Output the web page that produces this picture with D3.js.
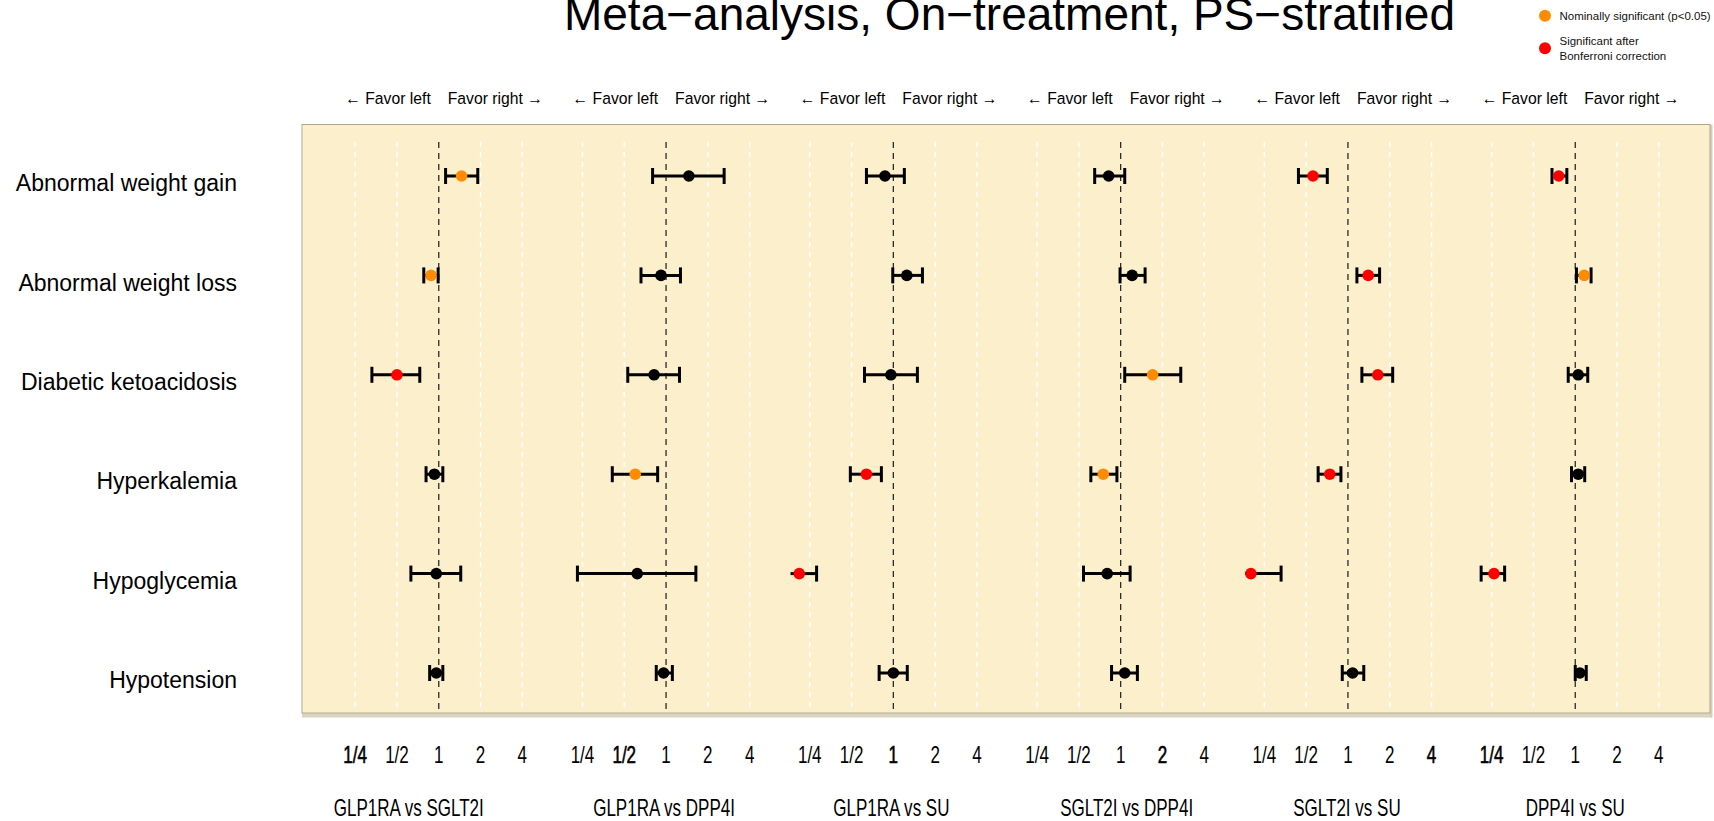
<!DOCTYPE html>
<html>
<head>
<meta charset="utf-8">
<script src="https://cdn.jsdelivr.net/npm/d3@7"></script>
<style>
  html, body { margin: 0; padding: 0; background: #ffffff; }
  svg { display: block; font-family: "Liberation Sans", Arial, sans-serif; }
</style>
</head>
<body>
<svg id="chart" width="1714" height="821"></svg>
<script>
// ---- data -------------------------------------------------------------
const comparisons = ["GLP1RA vs SGLT2I", "GLP1RA vs DPP4I", "GLP1RA vs SU",
                     "SGLT2I vs DPP4I", "SGLT2I vs SU", "DPP4I vs SU"];
const outcomes = ["Abnormal weight gain", "Abnormal weight loss", "Diabetic ketoacidosis",
                  "Hyperkalemia", "Hypoglycemia", "Hypotension"];
const tickValues = [0.25, 0.5, 1, 2, 4];
const tickLabels = ["1/4", "1/2", "1", "2", "4"];

// hazard ratios [comparison][outcome]
const hrPoint = [
  [1.46, 0.88, 0.50, 0.93, 0.96, 0.96],
  [1.46, 0.92, 0.82, 0.60, 0.62, 0.96],
  [0.87, 1.25, 0.96, 0.64, 0.21, 1.00],
  [0.82, 1.21, 1.70, 0.75, 0.80, 1.07],
  [0.56, 1.40, 1.64, 0.74, 0.20, 1.08],
  [0.76, 1.16, 1.05, 1.05, 0.26, 1.08]
];
const ciLower = [
  [1.12, 0.78, 0.33, 0.81, 0.63, 0.86],
  [0.80, 0.66, 0.53, 0.41, 0.23, 0.85],
  [0.64, 0.99, 0.62, 0.49, 0.16, 0.79],
  [0.65, 0.99, 1.07, 0.61, 0.54, 0.86],
  [0.44, 1.16, 1.26, 0.61, 0.15, 0.91],
  [0.68, 1.02, 0.89, 0.94, 0.21, 1.00]
];
const ciUpper = [
  [1.91, 0.99, 0.73, 1.07, 1.44, 1.07],
  [2.62, 1.27, 1.25, 0.87, 1.64, 1.11],
  [1.20, 1.62, 1.49, 0.82, 0.28, 1.26],
  [1.07, 1.50, 2.71, 0.94, 1.17, 1.32],
  [0.71, 1.69, 2.10, 0.89, 0.33, 1.30],
  [0.87, 1.30, 1.23, 1.17, 0.31, 1.20]
];
// 0 = not significant, 1 = nominally significant, 2 = significant after Bonferroni
const significance = [
  [1, 1, 2, 0, 0, 0],
  [0, 0, 0, 1, 0, 0],
  [0, 0, 0, 2, 2, 0],
  [0, 0, 1, 1, 0, 0],
  [2, 2, 2, 2, 2, 0],
  [2, 1, 0, 0, 2, 0]
];
const legendLabels = [["Nominally significant (p<0.05)"], ["Significant after", "Bonferroni correction"]];
const titleText = "Meta\u2212analysis, On\u2212treatment, PS\u2212stratified";

// ---- layout -----------------------------------------------------------
const sigColor = ["#000000", "#FF8C00", "#FF0000"];
const panel = { x0: 302, x1: 1710, y0: 124.5, y1: 713 };
const halfSpan = 2.719;                 // log2 units each side of HR = 1
const clipMin = Math.pow(2, -2.46);     // lower CI limit shown in each panel
const clipMax = Math.pow(2, 2.46);

const svg = d3.select("#chart");

const band = d3.scaleBand()
  .domain(comparisons)
  .range([325.1, 1688.9])
  .paddingInner(0).paddingOuter(0);

const within = d3.scaleLog().base(2)
  .domain([Math.pow(2, -halfSpan), Math.pow(2, halfSpan)])
  .range([0, band.bandwidth()]);

const xAt = (g, v) => band(comparisons[g]) + within(v);

const y = d3.scalePoint().domain(outcomes).range([176, 673]);

// condensed text helper (narrow glyphs, full height)
function narrowText(parent, x, yy, str, size, sx, anchor) {
  return parent.append("text")
    .attr("transform", `translate(${x},${yy}) scale(${sx},1)`)
    .attr("text-anchor", anchor)
    .attr("font-size", size)
    .attr("fill", "#000")
    .text(str);
}

// panel background
svg.append("rect")
  .attr("x", panel.x0).attr("y", panel.y1)
  .attr("width", panel.x1 - panel.x0 + 2).attr("height", 4.5)
  .attr("fill", "#D9D4C3");
svg.append("rect")
  .attr("x", panel.x1).attr("y", panel.y0)
  .attr("width", 2.5).attr("height", panel.y1 - panel.y0 + 4.5)
  .attr("fill", "#D3CEBE");
svg.append("rect")
  .attr("x", panel.x0).attr("y", panel.y0)
  .attr("width", panel.x1 - panel.x0).attr("height", panel.y1 - panel.y0)
  .attr("fill", "#FCEFCC")
  .attr("stroke", "#B3A98C").attr("stroke-width", 1);

// gridlines (white dashed) and reference line at HR = 1 (black dashed)
const gridTop = 142, gridBottom = 711;
comparisons.forEach((c, g) => {
  tickValues.forEach(v => {
    const isRef = v === 1;
    svg.append("line")
      .attr("x1", xAt(g, v)).attr("x2", xAt(g, v))
      .attr("y1", gridTop).attr("y2", gridBottom)
      .attr("stroke", isRef ? "#2a2a2a" : "#ffffff")
      .attr("stroke-width", isRef ? 1.3 : 1.4)
      .attr("stroke-dasharray", isRef ? "6,5" : "5,5");
  });
});

// estimates with confidence intervals
const capHalf = 8;
comparisons.forEach((c, g) => {
  outcomes.forEach((o, r) => {
    const yy = y(o);
    const lo = ciLower[g][r], hi = ciUpper[g][r], est = hrPoint[g][r];
    const xl = xAt(g, Math.max(lo, clipMin));
    const xh = xAt(g, Math.min(hi, clipMax));
    const grp = svg.append("g");
    grp.append("line")
      .attr("x1", xl).attr("x2", xh).attr("y1", yy).attr("y2", yy)
      .attr("stroke", "#000").attr("stroke-width", 3);
    if (lo >= clipMin) {
      grp.append("line")
        .attr("x1", xl).attr("x2", xl).attr("y1", yy - capHalf).attr("y2", yy + capHalf)
        .attr("stroke", "#000").attr("stroke-width", 3);
    }
    if (hi <= clipMax) {
      grp.append("line")
        .attr("x1", xh).attr("x2", xh).attr("y1", yy - capHalf).attr("y2", yy + capHalf)
        .attr("stroke", "#000").attr("stroke-width", 3);
    }
    grp.append("circle")
      .attr("cx", xAt(g, est)).attr("cy", yy).attr("r", 5.8)
      .attr("fill", sigColor[significance[g][r]]);
  });
});

// outcome labels
svg.append("g").selectAll("text")
  .data(outcomes).join("text")
  .attr("x", 237).attr("y", d => y(d) + 15.2)
  .attr("text-anchor", "end")
  .attr("font-size", 23)
  .attr("fill", "#000")
  .text(d => d);

// direction labels above each panel
const dirLayer = svg.append("g");
comparisons.forEach((c, g) => {
  const x1 = xAt(g, 1);
  narrowText(dirLayer, x1 - 8, 103.5, "\u2190 Favor left", 17, 0.925, "end");
  narrowText(dirLayer, x1 + 9, 103.5, "Favor right \u2192", 17, 0.925, "start");
});

// tick labels below the panel
const tickLayer = svg.append("g");
comparisons.forEach((c, g) => {
  tickValues.forEach((v, i) => {
    const t = narrowText(tickLayer, xAt(g, v), 763, tickLabels[i], 23, 0.74, "middle");
    if (i === g % tickValues.length) {
      t.attr("stroke", "#000").attr("stroke-width", 0.6);
    }
  });
});

// comparison labels
const labelNudge = [-30, -2, -2, 6, -1, 0];
const compLayer = svg.append("g");
comparisons.forEach((c, g) => {
  narrowText(compLayer, xAt(g, 1) + labelNudge[g], 816, c, 23, 0.74, "middle");
});

// title
svg.append("text")
  .attr("x", 1009.5).attr("y", 29.5)
  .attr("text-anchor", "middle")
  .attr("font-size", 46)
  .attr("fill", "#000")
  .text(titleText);

// legend
const legendY = [15.7, 48.3];
legendLabels.forEach((lines, i) => {
  svg.append("circle")
    .attr("cx", 1545).attr("cy", legendY[i]).attr("r", 6)
    .attr("fill", sigColor[i + 1]);
  const startY = legendY[i] + 4 - (lines.length - 1) * 7.5;
  lines.forEach((s, k) => {
    svg.append("text")
      .attr("x", 1559.5).attr("y", startY + k * 15)
      .attr("font-size", 11.5)
      .attr("fill", "#111")
      .text(s);
  });
});
</script>
</body>
</html>
